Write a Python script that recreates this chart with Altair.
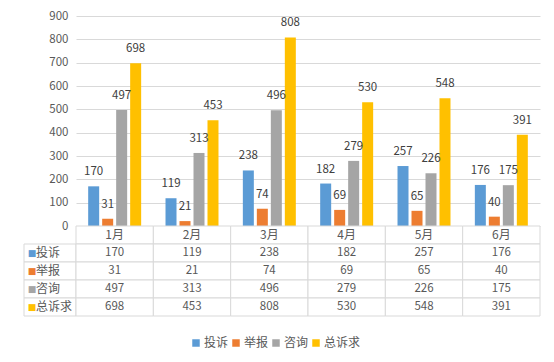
import altair as alt
import pandas as pd

FONT = "Noto Sans CJK SC"

months = ["1月", "2月", "3月", "4月", "5月", "6月"]
series = ["投诉", "举报", "咨询", "总诉求"]
complaint = [170, 119, 238, 182, 257, 176]
report = [31, 21, 74, 69, 65, 40]
consult = [497, 313, 496, 279, 226, 175]
total = [698, 453, 808, 530, 548, 391]
colors = ["#5B9BD5", "#ED7D31", "#A5A5A5", "#FFC000"]
y_ticks = [0, 100, 200, 300, 400, 500, 600, 700, 800, 900]

HEADER = "表头"
rows_domain = [HEADER] + series
values = dict(zip(series, [complaint, report, consult, total]))

long = pd.DataFrame(
    [{"month": m, "series": s, "value": v} for s in series for m, v in zip(months, values[s])]
)

grid_rows = [{"month": m, "row": HEADER, "label": m, "kind": "header"} for m in months]
grid_rows += [
    {"month": m, "row": s, "label": str(v), "kind": "value"}
    for s in series for m, v in zip(months, values[s])
]
grid_df = pd.DataFrame(grid_rows)
name_df = pd.DataFrame({"row": series, "series": series})

color_scale = alt.Scale(domain=series, range=colors)
month_scale = alt.Scale(domain=months, paddingInner=0, paddingOuter=0)
row_scale = alt.Scale(domain=rows_domain, paddingInner=0, paddingOuter=0)

# ---- bar chart ----
bar_base = alt.Chart(long).encode(
    x=alt.X("month:N", sort=months, scale=month_scale, axis=None),
    xOffset=alt.XOffset("series:N", sort=series,
                        scale=alt.Scale(domain=series, paddingInner=0.214, paddingOuter=0.87)),
    y=alt.Y("value:Q", title=None,
            scale=alt.Scale(domain=[0, 900], nice=False),
            axis=alt.Axis(values=y_ticks, domain=False, ticks=False, labelPadding=8,
                          labelColor="#595959", labelFont=FONT, labelFontSize=11.5,
                          gridColor="#D9D9D9", gridWidth=1)),
)
bars = bar_base.mark_bar().encode(
    color=alt.Color("series:N", scale=color_scale, sort=series,
                    legend=alt.Legend(title=None, orient="none", legendX=166, legendY=321,
                                      direction="horizontal", symbolType="square",
                                      symbolSize=56, symbolStrokeWidth=0,
                                      labelFont=FONT, labelFontSize=12, labelColor="#595959",
                                      labelOffset=2, columnPadding=1))
)
bar_labels = bar_base.mark_text(baseline="middle", dy=-14, font=FONT, fontSize=11.5,
                                color="#404040").encode(text="value:Q")
top = alt.layer(bars, bar_labels).properties(width=464, height=210)

spacer = alt.Chart(pd.DataFrame({"k": [0]})).mark_text(text="").properties(width=52, height=210)

# ---- name column ----
name_base = alt.Chart(name_df).encode(
    y=alt.Y("row:N", sort=rows_domain, scale=row_scale, axis=None)
)
name_cells = name_base.mark_rect(fill="white", stroke="#D9D9D9", strokeWidth=1)
name_sq = name_base.mark_text(text="■", align="center", dx=-18, font="DejaVu Sans",
                              fontSize=9).encode(
    color=alt.Color("series:N", scale=color_scale, legend=None)
)
name_txt = name_base.mark_text(align="left", dx=-14, font=FONT, fontSize=12,
                               color="#595959").encode(text="series:N")
namecol = alt.layer(name_cells, name_sq, name_txt).properties(width=52, height=90)

# ---- value grid ----
grid_base = alt.Chart(grid_df).encode(
    x=alt.X("month:N", sort=months, scale=month_scale, axis=None),
    y=alt.Y("row:N", sort=rows_domain, scale=row_scale, axis=None),
)
grid_cells = grid_base.mark_rect(fill="white", stroke="#D9D9D9", strokeWidth=1)
grid_head = grid_base.mark_text(font=FONT, fontSize=12, color="#595959").encode(
    text="label:N").transform_filter(alt.datum.kind == "header")
grid_vals = grid_base.mark_text(font=FONT, fontSize=11.5, color="#595959").encode(
    text="label:N").transform_filter(alt.datum.kind == "value")
grid = alt.layer(grid_cells, grid_head, grid_vals).properties(width=464, height=90)

chart = alt.concat(spacer, top, namecol, grid, columns=2, spacing=0, bounds="flush").properties(
    padding={"left": 15, "top": 2, "right": 5, "bottom": 5},
    background="white",
).configure_view(strokeWidth=0)

chart.save("out.html", embed_options={"renderer": "svg", "actions": False})
